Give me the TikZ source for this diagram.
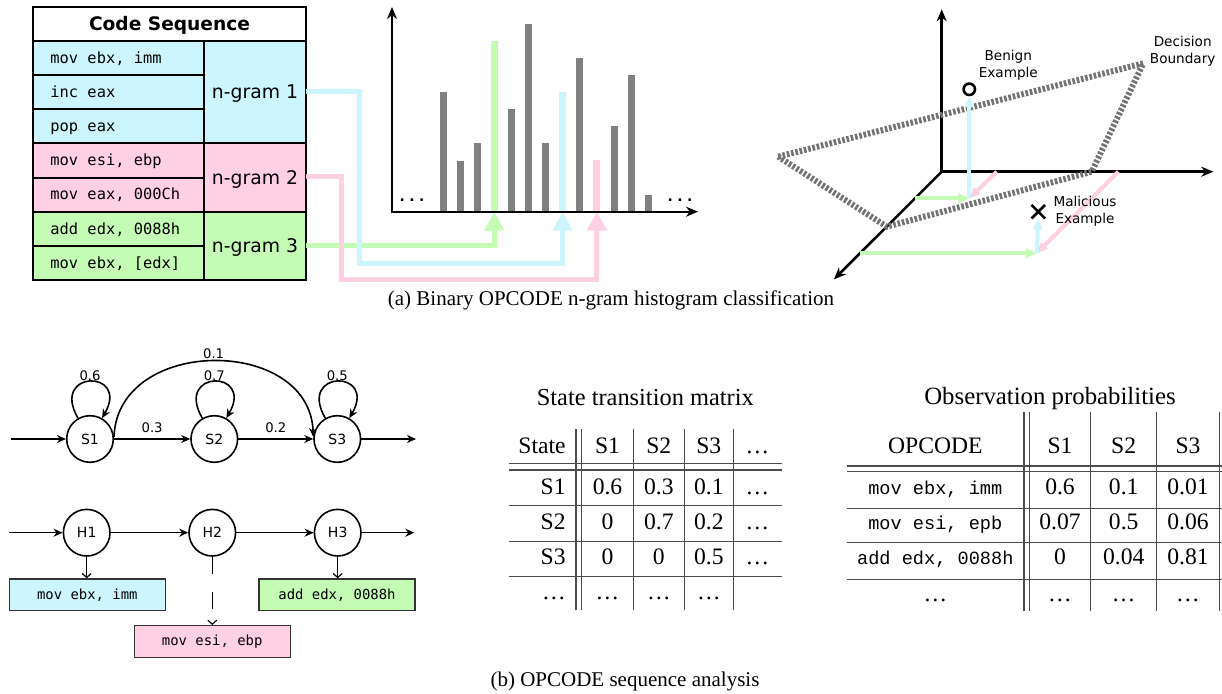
\documentclass[tikz,border=0pt]{standalone}
\usepackage{fontspec}
\setmainfont{Liberation Serif}
\setmonofont{Liberation Mono}
\newfontfamily\dvsans{DejaVu Sans}
\newfontfamily\dvmono{DejaVu Sans Mono}
\usetikzlibrary{arrows.meta,shapes.misc}

\definecolor{ngblue}{HTML}{CCF5FD}
\definecolor{ngpink}{HTML}{FFD0E4}
\definecolor{nggreen}{HTML}{C4FCB6}
\definecolor{bargray}{HTML}{808080}

\begin{document}
\begin{tikzpicture}[x=0.5pt,y=0.5pt,
    cell/.style={draw, line width=1pt},
    code/.style={anchor=base west, inner sep=0pt, font=\dvmono\fontsize{7.7}{9}\selectfont},
    gram/.style={anchor=base, inner sep=0pt, font=\dvsans\fontsize{9.4}{11}\selectfont},
    link/.style={line width=2.5pt, -{Triangle[length=9.5pt,width=9.5pt]}},
    bar/.style={line width=3.5pt},
    axis/.style={line width=1pt, {Stealth[length=6pt,width=5pt]}-{Stealth[length=6pt,width=5pt]}},
    axis3/.style={line width=1.3pt, -{Stealth[length=6pt,width=5pt]}},
    arr3/.style={line width=2pt, -{Triangle[length=5.5pt,width=4.5pt]}},
    note/.style={align=center, inner sep=0pt, font=\dvsans\fontsize{6.8}{8.5}\selectfont},
    state/.style={circle, draw, line width=0.8pt, minimum size=23.3pt, inner sep=0pt, font=\dvsans\fontsize{7}{8}\selectfont},
    flow/.style={line width=0.8pt, -{Stealth[length=4.5pt,width=4pt]}},
    prob/.style={inner sep=1pt, font=\dvsans\fontsize{6.6}{8}\selectfont},
    emit/.style={line width=0.7pt, -{Straight Barb[length=2pt,width=4.5pt,line width=0.6pt]}},
    obsbox/.style={draw=black!80, line width=0.7pt, minimum width=78pt, minimum height=15.8pt, inner sep=0pt, font=\dvmono\fontsize{6.95}{8}\selectfont},
    tab/.style={anchor=base, inner sep=0pt, font=\fontsize{11.8}{14}\selectfont},
    tabmono/.style={anchor=base, inner sep=0pt, font=\ttfamily\fontsize{9.3}{11}\selectfont},
    rule/.style={line width=0.7pt, black!70}]
  \useasboundingbox (0,0) rectangle (1222,-694);

  % code sequence table
  \draw[cell, fill=white] (33,-7) rectangle (306,-41);
  \node[gram, font=\dvsans\bfseries\fontsize{9.3}{11}\selectfont] (codehead) at (169.5,-30.7) {Code Sequence};
  \foreach \t/\b/\c in {41/75.1/ngblue, 75.1/109.3/ngblue, 109.3/143.4/ngblue,
      143.4/177.6/ngpink, 177.6/211.7/ngpink, 211.7/245.8/nggreen, 245.8/280/nggreen}
    \draw[cell, fill=\c] (33,-\t) rectangle (204,-\b);
  \draw[cell, fill=ngblue] (204,-41) rectangle (306,-143.4);
  \draw[cell, fill=ngpink] (204,-143.4) rectangle (306,-211.7);
  \draw[cell, fill=nggreen] (204,-211.7) rectangle (306,-280);
  \foreach \y/\txt [count=\i] in {63.3/{mov ebx, imm}, 97.5/{inc eax}, 131.7/{pop eax},
      165.8/{mov esi, ebp}, 200/{mov eax, 000Ch}, 234.1/{add edx, 0088h}, 268.2/{mov ebx, [edx]}}
    \node[code] (op\i) at (50,-\y) {\txt};
  \node[gram] (gram1) at (255,-98.7) {n-gram 1};
  \node[gram] (gram2) at (255,-184.3) {n-gram 2};
  \node[gram] (gram3) at (255,-252.3) {n-gram 3};
  \coordinate (ng1) at (306,-92);
  \coordinate (ng2) at (306,-177);
  \coordinate (ng3) at (306,-246);

  % histogram
  \foreach \i in {1,...,13}
    \coordinate (bin\i) at ({443+17.1*(\i-1)},-211.7);
  \foreach \i/\h in {1/7,2/3,3/4,5/6,6/11,7/4,9/9,11/5,12/8,13/1}
    \draw[bar, bargray] (bin\i) -- ++(0,{\h*17.06});
  \draw[bar, nggreen] (bin4) -- ++(0,170.6);
  \draw[bar, ngblue] (bin8) -- ++(0,119.4);
  \draw[bar, ngpink] (bin10) -- ++(0,51.2);
  \draw[link, nggreen] (ng3) -| (bin4);
  \draw[link, ngblue] (ng1) -| (359,-264) -| (bin8);
  \draw[link, ngpink] (ng2) -| (341,-280) -| (bin10);
  \draw[axis] (392,-7) -- (392,-211.7) -- (698,-211.7);
  \node[anchor=base, inner sep=0pt, font=\dvsans\bfseries\fontsize{7}{9}\selectfont] (ldots) at (412,-201.7) {.\kern2.2pt.\kern2.2pt.};
  \node[anchor=base, inner sep=0pt, font=\dvsans\bfseries\fontsize{7}{9}\selectfont] (rdots) at (680,-201.7) {.\kern2.2pt.\kern2.2pt.};

  % feature space
  \coordinate (O) at (941.7,-171.7);
  \draw[axis3] (O) -- (941.7,-9.3);
  \draw[axis3] (O) -- (1213.3,-171.7);
  \draw[axis3] (O) -- (834,-279.3);
  \draw[line width=3pt, black!55, dash pattern=on 1.3pt off 0.9pt]
    (778.3,-156.7) -- (1143.3,-63.3) -- (1091.7,-171.7) -- (886.7,-226.7) -- cycle;
  \node[circle, draw, line width=1.3pt, minimum size=5.7pt, inner sep=0pt] (benign) at (969.3,-89.3) {};
  \node[cross out, draw, line width=1.3pt, minimum size=5.5pt, inner sep=0pt] (malicious) at (1038.3,-211.7) {};
  \coordinate (bx) at (915,-198.3);
  \coordinate (by) at (996.7,-171.7);
  \coordinate (bfoot) at (969.3,-198.3);
  \coordinate (mx) at (860,-253.3);
  \coordinate (my) at (1118.3,-171.7);
  \coordinate (mfoot) at (1036.7,-253.3);
  \draw[arr3, nggreen] (bx) -- (bfoot);
  \draw[arr3, ngpink] (by) -- (bfoot);
  \draw[arr3, ngblue] (bfoot) -- (benign);
  \draw[arr3, nggreen] (mx) -- (mfoot);
  \draw[arr3, ngpink] (my) -- (mfoot);
  \draw[arr3, ngblue] (mfoot) -- (malicious);
  \node[note] (benignlbl) at (1008.3,-65.3) {Benign\\Example};
  \node[note] (maliciouslbl) at (1085,-211.5) {Malicious\\Example};
  \node[note] (boundarylbl) at (1182.7,-51.5) {Decision\\Boundary};

  \node[anchor=base, font=\fontsize{10.5}{12}\selectfont] (capa) at (611,-305.7) {(a) Binary OPCODE n-gram histogram classification};

  % markov chain
  \node[state] (S1) at (90,-439) {S1};
  \node[state] (S2) at (214.3,-439) {S2};
  \node[state] (S3) at (337.3,-439) {S3};
  \coordinate (sin) at (11,-439);
  \coordinate (sout) at (416,-439);
  \draw[flow] (sin) -- (S1);
  \draw[flow] (S1) -- node[prob, above=2pt] (p12) {0.3} (S2);
  \draw[flow] (S2) -- node[prob, above=2pt] (p23) {0.2} (S3);
  \draw[flow] (S3) -- (sout);
  \draw[flow] (S1) to[out=120,in=60,looseness=6] node[prob, above, inner sep=0pt] (p11) {0.6} (S1);
  \draw[flow] (S2) to[out=120,in=60,looseness=6] node[prob, above, inner sep=0pt] (p22) {0.7} (S2);
  \draw[flow] (S3) to[out=120,in=60,looseness=6] node[prob, above, inner sep=0pt] (p33) {0.5} (S3);
  \draw[flow] (S1.5) to[out=88,in=92,looseness=1.3] node[prob, above] (p13) {0.1} (S3.175);

  % hidden states and emissions
  \node[state] (H1) at (86.7,-532.7) {H1};
  \node[state] (H2) at (212.3,-532.7) {H2};
  \node[state] (H3) at (337.7,-532.7) {H3};
  \coordinate (hin) at (9.3,-532.7);
  \coordinate (hout) at (414.3,-532.7);
  \draw[flow] (hin) -- (H1);
  \draw[flow] (H1) -- (H2);
  \draw[flow] (H2) -- (H3);
  \draw[flow] (H3) -- (hout);
  \node[obsbox, fill=ngblue] (o1) at (87.3,-594.8) {mov ebx, imm};
  \node[obsbox, fill=ngpink] (o2) at (212.2,-641.5) {mov esi, ebp};
  \node[obsbox, fill=nggreen] (o3) at (337,-594.8) {add edx, 0088h};
  \draw[emit] (H1) -- (H1 |- o1.north);
  \draw[emit, dash pattern=on 8.5pt off 9pt] (H2) -- (H2 |- o2.north);
  \draw[emit] (H3) -- (H3 |- o3.north);

  % state transition matrix
  \node[tab, font=\fontsize{12.2}{14}\selectfont] (sttitle) at (645.3,-406) {State transition matrix};
  \foreach \y in {463.3,470,505.7,541.7,576.7}
    \draw[rule] (509,-\y) -- (781.7,-\y);
  \foreach \x in {576,581.7,633.3,684.3,733.3}
    \draw[rule] (\x,-429.3) -- (\x,-610);
  \node[tab, anchor=base east] (sthd0) at (566,-454) {State};
  \foreach \x/\t [count=\k] in {607.5/S1, 658.8/S2, 708.8/S3, 757.5/\dots}
    \node[tab] (sthd\k) at (\x,-454) {\t};
  \foreach \r/\y/\p/\q/\s [count=\k] in {S1/495/0.6/0.3/0.1, S2/530/0/0.7/0.2, S3/565/0/0/0.5}{
    \node[tab, anchor=base east] (strow\k) at (566,-\y) {\r};
    \node[tab] (st\k a) at (607.5,-\y) {\p};
    \node[tab] (st\k b) at (658.8,-\y) {\q};
    \node[tab] (st\k c) at (708.8,-\y) {\s};
    \node[tab] (st\k d) at (757.5,-\y) {\dots};
  }
  \node[tab, anchor=base east] (strow4) at (566,-600) {\dots};
  \foreach \x [count=\k] in {607.5,658.8,708.8}
    \node[tab] (stdots\k) at (\x,-600) {\dots};

  % observation probabilities
  \node[tab, font=\fontsize{12.4}{14}\selectfont] (obtitle) at (1050,-405) {Observation probabilities};
  \foreach \y in {466,471.7,508.3,542.7,579.3}
    \draw[rule] (846.7,-\y) -- (1222,-\y);
  \foreach \x in {1024,1029.3,1090.7,1156.7,1219.3}
    \draw[rule] (\x,-411.7) -- (\x,-610.7);
  \foreach \x/\t [count=\k] in {935.3/OPCODE, 1060/S1, 1123.7/S2, 1188/S3}
    \node[tab] (obhd\k) at (\x,-454) {\t};
  \foreach \o/\y/\p/\q/\s [count=\k] in {{mov ebx, imm}/495/0.6/0.1/0.01,
      {mov esi, epb}/530/0.07/0.5/0.06, {add edx, 0088h}/565/0/0.04/0.81}{
    \node[tabmono] (obrow\k) at (935.3,-\y) {\o};
    \node[tab] (ob\k a) at (1060,-\y) {\p};
    \node[tab] (ob\k b) at (1123.7,-\y) {\q};
    \node[tab] (ob\k c) at (1188,-\y) {\s};
  }
  \foreach \x [count=\k] in {935.3,1060,1123.7,1188}
    \node[tab] (obdots\k) at (\x,-601.7) {\dots};

  \node[anchor=base, font=\fontsize{10.5}{12}\selectfont] (capb) at (625,-687) {(b) OPCODE sequence analysis};
\end{tikzpicture}
\end{document}
